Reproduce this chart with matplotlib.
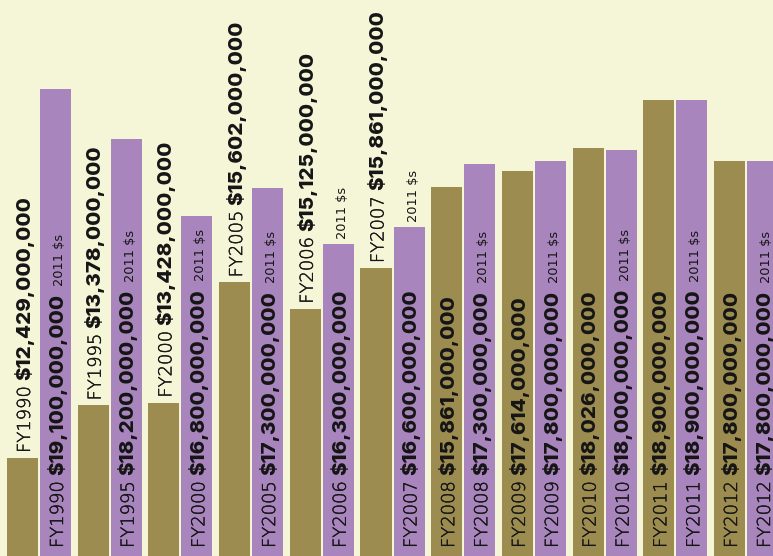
import matplotlib

matplotlib.use("Agg")
import matplotlib.pyplot as plt
import matplotlib.patheffects as pe
import numpy as np
from matplotlib.transforms import offset_copy

YEARS = ["FY1990", "FY1995", "FY2000", "FY2005", "FY2006", "FY2007",
         "FY2008", "FY2009", "FY2010", "FY2011", "FY2012"]
# bar heights in $ billions
NOMINAL = [12.429, 13.378, 13.428, 15.602, 15.125, 15.861,
           17.33, 17.614, 18.026, 18.9, 17.8]
REAL_2011 = [19.1, 18.2, 16.8, 17.3, 16.3, 16.6,
             17.74, 17.8, 18.0, 18.9, 17.8]
# label texts as printed on the chart
NOMINAL_LABELS = ["$12,429,000,000", "$13,378,000,000", "$13,428,000,000",
                  "$15,602,000,000", "$15,125,000,000", "$15,861,000,000",
                  "$15,861,000,000", "$17,614,000,000", "$18,026,000,000",
                  "$18,900,000,000", "$17,800,000,000"]
REAL_LABELS = ["$19,100,000,000", "$18,200,000,000", "$16,800,000,000",
               "$17,300,000,000", "$16,300,000,000", "$16,600,000,000",
               "$17,300,000,000", "$17,800,000,000", "$18,000,000,000",
               "$18,900,000,000", "$17,800,000,000"]
REAL_SUFFIX = "2011 $s"

BG = "#f5f5d8"
OLIVE = "#9c8c50"
PURPLE = "#a985bd"
INK = "#151515"

# years whose nominal label sits above the bar / whose "2011 $s" overflows above
NOMINAL_ABOVE = {"FY1990", "FY1995", "FY2000", "FY2005", "FY2006", "FY2007"}
SUFFIX_ABOVE = {"FY2006", "FY2007"}

BAR_W = 0.4385
PAIR_OFF = 0.4668
BASE_DX = 7.5      # px from bar centre to text baseline
INSIDE_START = 8   # px above bottom edge
ABOVE_GAP = 5      # px above bar top

year_font = dict(family="DejaVu Sans", fontsize=12.9, fontweight=200, color=INK,
                 path_effects=[pe.withStroke(linewidth=0.3, foreground=INK)])
amount_font = dict(family="Inter", fontsize=14.8, fontweight=800, color=INK)
small_font = dict(family="DejaVu Sans", fontsize=9.3, fontweight="normal", color=INK)


def draw_runs(ax, renderer, x, y, runs, start):
    """Stack text runs bottom-to-top along a vertical baseline."""
    fig = ax.figure
    offset = start
    for text, props, gap in runs:
        tr = offset_copy(ax.transData, fig=fig, x=BASE_DX, y=offset, units="dots")
        t = ax.text(x, y, text, transform=tr, rotation=90, rotation_mode="anchor",
                    ha="left", va="baseline", parse_math=False, **props)
        offset += t.get_window_extent(renderer).height + gap
    return offset


fig = plt.figure(figsize=(7.73, 5.56), dpi=100)
fig.patch.set_facecolor(BG)
ax = fig.add_axes([0, 0, 1, 1])
ax.set_facecolor(BG)
ax.set_xlim(-0.318, 10.615)
ax.set_ylim(10.657, 20.707)
ax.axis("off")

x = np.arange(len(YEARS))
ax.bar(x, NOMINAL, width=BAR_W, color=OLIVE, linewidth=0)
ax.bar(x + PAIR_OFF, REAL_2011, width=BAR_W, color=PURPLE, linewidth=0)

renderer = fig.canvas.get_renderer()
y0 = ax.get_ylim()[0]

for i, year in enumerate(YEARS):
    # nominal bar
    runs = [(year, year_font, 6.5), (NOMINAL_LABELS[i], amount_font, 0)]
    if year in NOMINAL_ABOVE:
        draw_runs(ax, renderer, x[i], NOMINAL[i], runs, ABOVE_GAP)
    else:
        draw_runs(ax, renderer, x[i], y0, runs, INSIDE_START)

    # 2011 dollars bar
    xr = x[i] + PAIR_OFF
    runs = [(year, year_font, 6.5), (REAL_LABELS[i], amount_font, 8)]
    if year in SUFFIX_ABOVE:
        draw_runs(ax, renderer, xr, y0, runs, INSIDE_START)
        draw_runs(ax, renderer, xr, REAL_2011[i], [(REAL_SUFFIX, small_font, 0)], ABOVE_GAP)
    else:
        runs.append((REAL_SUFFIX, small_font, 0))
        draw_runs(ax, renderer, xr, y0, runs, INSIDE_START)

fig.savefig("out.png", dpi=100, facecolor=BG)
